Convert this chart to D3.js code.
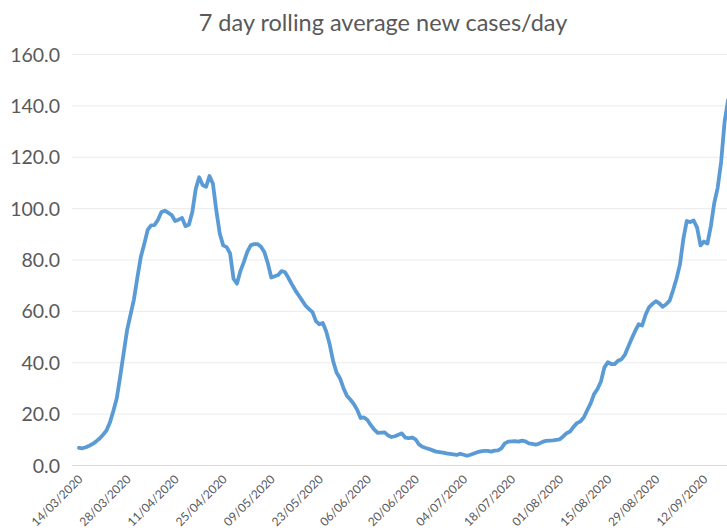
<!DOCTYPE html>
<html>
<head>
<meta charset="utf-8">
<script src="https://cdn.jsdelivr.net/npm/d3@7"></script>
<style>
  html, body { margin: 0; padding: 0; background: #fff; }
  svg { display: block; }
</style>
</head>
<body>
<svg id="chart" width="727" height="530"></svg>
<script>
// 7-day rolling average of new cases, one value per day starting 14/03/2020
const startDate = "2020-03-14";
const rollingAvg = [
  6.7, 6.5, 6.9, 7.5, 8.2, 9.2, 10.3, 11.8, 13.4, 16.5,
  21.0, 26.0, 34.5, 43.5, 52.5, 58.5, 64.5, 73.0, 81.0, 86.0,
  91.5, 93.3, 93.4, 95.5, 98.5, 99.0, 98.2, 97.3, 95.0, 95.5,
  96.2, 93.0, 93.5, 98.5, 107.5, 112.0, 109.0, 108.3, 112.5, 109.5,
  99.0, 90.0, 85.5, 84.8, 82.4, 72.5, 70.6, 75.5, 79.0, 83.0,
  85.5, 86.0, 86.0, 85.0, 82.8, 78.5, 73.0, 73.5, 74.0, 75.5,
  75.0, 72.8, 70.3, 68.0, 66.0, 64.0, 62.0, 60.7, 59.5, 56.0,
  54.8, 55.3, 52.0, 47.0, 40.5, 36.0, 33.8, 30.0, 27.0, 25.5,
  23.8, 21.5, 18.3, 18.5, 17.5, 15.5, 13.8, 12.5, 12.6, 12.7,
  11.5, 10.9, 11.2, 11.8, 12.3, 10.7, 10.5, 10.7, 10.0, 8.0,
  7.1, 6.6, 6.2, 5.7, 5.2, 5.0, 4.8, 4.5, 4.3, 4.1,
  3.9, 4.4, 4.0, 3.6, 4.0, 4.5, 5.0, 5.3, 5.5, 5.5,
  5.2, 5.6, 5.7, 6.5, 8.4, 9.1, 9.2, 9.3, 9.1, 9.5,
  9.2, 8.4, 8.2, 7.9, 8.3, 9.0, 9.4, 9.5, 9.6, 9.8,
  10.0, 11.1, 12.4, 13.0, 14.8, 16.3, 16.9, 18.5, 21.3, 24.0,
  27.6, 29.6, 32.5, 38.0, 40.0, 39.3, 39.3, 40.6, 41.2, 43.0,
  46.2, 49.3, 52.3, 54.8, 54.3, 58.5, 61.4, 62.7, 63.8, 62.9,
  61.6, 62.6, 64.0, 68.0, 72.5, 78.0, 88.0, 95.0, 94.6, 95.2,
  92.4, 85.5, 87.0, 86.2, 93.0, 102.0, 108.0, 118.0, 133.5, 142.0
];

// Axis labels
const yTicks = [0, 20, 40, 60, 80, 100, 120, 140, 160];
const xTickLabels = [
  "14/03/2020", "28/03/2020", "11/04/2020", "25/04/2020", "09/05/2020",
  "23/05/2020", "06/06/2020", "20/06/2020", "04/07/2020", "18/07/2020",
  "01/08/2020", "15/08/2020", "29/08/2020", "12/09/2020"
];
const title = "7 day rolling average new cases/day";

const parseDay = d3.utcParse("%Y-%m-%d");
const parseLabel = d3.utcParse("%d/%m/%Y");
const fmtLabel = d3.utcFormat("%d/%m/%Y");
const t0 = parseDay(startDate);
const series = rollingAvg.map((v, i) => ({ date: d3.utcDay.offset(t0, i), value: v }));

const svg = d3.select("#chart");
const FONT = "Lato, 'Open Sans', sans-serif";
const TEXT = "#595959";

const x = d3.scaleUtc()
  .domain([t0, series[series.length - 1].date])
  .range([79, 728]);
const y = d3.scaleLinear().domain([0, 160]).range([465, 54]);

// Title
svg.append("text")
  .attr("x", 383).attr("y", 31)
  .attr("text-anchor", "middle")
  .attr("font-family", FONT).attr("font-size", 23.5)
  .attr("fill", TEXT)
  .text(title);

// Horizontal gridlines and value labels
const yAxis = d3.axisLeft(y)
  .tickValues(yTicks)
  .tickSize(-(727 - 72))
  .tickPadding(12)
  .tickFormat(d3.format(".1f"));

const gy = svg.append("g")
  .attr("transform", "translate(72,0)")
  .call(yAxis);
gy.select(".domain").remove();
gy.selectAll(".tick line")
  .attr("stroke", d => d === 0 ? "#d9d9d9" : "#ebebeb")
  .attr("stroke-width", 1);
gy.selectAll(".tick text")
  .attr("font-family", FONT).attr("font-size", 19.5)
  .attr("fill", TEXT)
  .attr("dy", "0.36em");

// Date labels, rotated
const xDates = xTickLabels.map(parseLabel);
const xAxis = d3.axisBottom(x)
  .tickValues(xDates)
  .tickSize(0)
  .tickFormat(fmtLabel);
const gx = svg.append("g")
  .attr("transform", "translate(0,465)")
  .call(xAxis);
gx.select(".domain").remove();
gx.selectAll(".tick text")
  .attr("font-family", FONT).attr("font-size", 12)
  .attr("fill", TEXT)
  .attr("text-anchor", "end")
  .attr("y", 0)
  .attr("dy", 0)
  .attr("transform", "translate(4,15) rotate(-45)");

// Rolling-average line
svg.append("path")
  .datum(series)
  .attr("fill", "none")
  .attr("stroke", "#5b9bd5")
  .attr("stroke-width", 3.8)
  .attr("stroke-linejoin", "round")
  .attr("stroke-linecap", "round")
  .attr("d", d3.line().x(d => x(d.date)).y(d => y(d.value)));
</script>
</body>
</html>
